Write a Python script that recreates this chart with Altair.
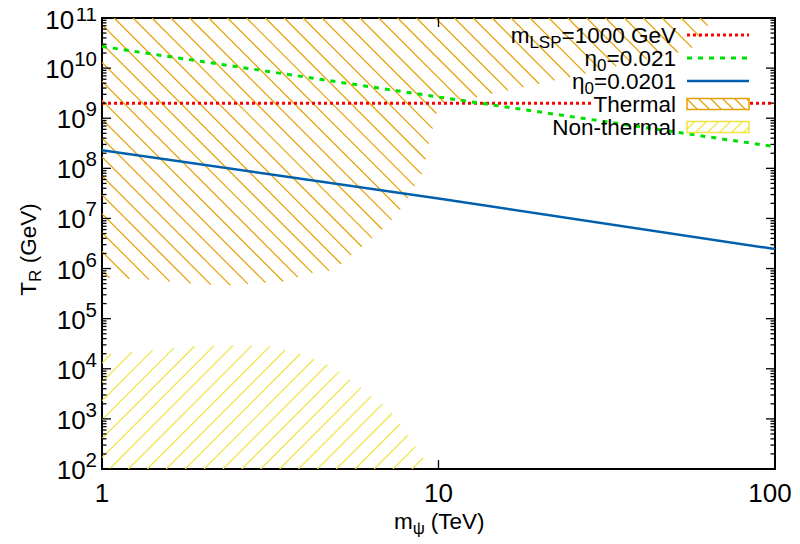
import altair as alt
import numpy as np
import pandas as pd

# ---------------- data ----------------
m_line = [1, 10, 100]
T_mlsp = [2.0e9, 2.0e9, 2.0e9]
T_eta021 = [2.7e10, 2.65e9, 2.7e8]
T_eta0201 = [2.3e8, 2.5e7, 2.45e6]

thermal_m = [1, 65.0, 61.9, 57.1, 51.5, 39.7, 30.2, 20.0, 14.2, 11.8, 10.45, 9.9, 9.63,
             9.37, 9.18, 8.93, 8.51, 8.12, 7.74, 7.33, 6.84, 6.39, 5.93, 5.53, 5.17, 4.73,
             4.24, 3.45, 2.77, 2.40, 1.83, 1.39, 1]
thermal_T = [1e11, 1e11, 5.6e10, 2.6e10, 2.05e10, 1.42e10, 9.0e9, 4.9e9, 3.0e9, 2.25e9,
             1.88e9, 1.36e9, 6.5e8, 3.3e8, 1.64e8, 7.9e7, 4.5e7, 2.6e7, 1.58e7, 1.0e7,
             6.3e6, 4.2e6, 2.75e6, 1.9e6, 1.26e6, 9.1e5, 8.3e5, 5.5e5, 5.0e5, 4.6e5,
             5.0e5, 6.0e5, 6.6e5]

nonthermal_m = [1, 1, 1.39, 1.83, 2.14, 2.57, 3.11, 3.47, 3.88, 4.24, 4.66, 5.06, 5.46,
                5.89, 6.39, 6.84, 7.27, 7.74, 8.06, 8.58, 9.06, 9.44]
nonthermal_T = [100, 1.9e4, 2.3e4, 2.8e4, 2.9e4, 2.9e4, 2.9e4, 2.4e4, 2.0e4, 1.6e4,
                1.21e4, 8.8e3, 6.1e3, 4.2e3, 2.66e3, 1.93e3, 1.28e3, 770, 486, 267, 161, 100]

x_ticks = [1, 10, 100]
x_tick_labels = ["1", "10", "100"]
y_exps = list(range(2, 12))

# ---------------- layout / style ----------------
W, H = 673, 451
FONT = "Liberation Sans"
FS = 22.5      # legend / titles
SFS = 17       # subscripts
TFS = 26       # tick labels
TSFS = 20.5    # tick superscripts
RED, GREEN, BLUE = "#ff0000", "#00e000", "#0060ad"
ORANGE, YELLOW = "#e69f00", "#f0e442"

AW = {" ": 278, "(": 333, ")": 333, "-": 333, ".": 278, "=": 584, "G": 778,
      "L": 556, "N": 722, "P": 667, "R": 722, "S": 667, "T": 611, "V": 667, "a": 556,
      "e": 556, "h": 556, "l": 222, "m": 833, "n": 556, "o": 556, "r": 333, "t": 278,
      "\u03b7": 556, "\u03c8": 700}


def tw(s, size):
    return sum(AW.get(ch, 556) for ch in s) * size / 1000.0


xs = alt.Scale(type="log", domain=[1, 100], nice=False)
ys = alt.Scale(type="log", domain=[1e2, 1e11], nice=False)
dummy = pd.DataFrame({"a": [0]})


def to_uv(m, T):
    return np.log10(m) / 2 * W, (11 - np.log10(T)) / 9 * H


def from_uv(u, v):
    return 10 ** (u / W * 2), 10 ** (11 - v / H * 9)


def hatch_uv(u, v, direction, c0, step):
    """clip the family of lines v = direction*u + c against polygon (u, v)"""
    u = np.asarray(u, float)
    v = np.asarray(v, float)
    g = v - direction * u
    n = len(u)
    segs = []
    k0 = int(np.ceil((g.min() - c0) / step))
    k1 = int(np.floor((g.max() - c0) / step))
    for k in range(k0, k1 + 1):
        c = c0 + k * step
        pts = []
        for i in range(n):
            j = (i + 1) % n
            a, b = g[i] - c, g[j] - c
            if (a < 0) != (b < 0):
                t = a / (a - b)
                pts.append(u[i] + t * (u[j] - u[i]))
        pts.sort()
        for p in range(0, len(pts) - 1, 2):
            ua, ub = pts[p], pts[p + 1]
            segs.append((ua, direction * ua + c, ub, direction * ub + c))
    return segs


def hatch_layer(pm, pT, direction, c0, step, color):
    u, v = to_uv(np.array(pm), np.array(pT))
    segs = hatch_uv(u, v, direction, c0, step)
    rows = []
    for ua, va, ub, vb in segs:
        m1, T1 = from_uv(ua, va)
        m2, T2 = from_uv(ub, vb)
        rows.append({"m1": m1, "T1": T1, "m2": m2, "T2": T2})
    df = pd.DataFrame(rows)
    return alt.Chart(df).mark_rule(color=color, strokeWidth=1.2, clip=True).encode(
        x=alt.X("m1:Q", scale=xs, axis=None), y=alt.Y("T1:Q", scale=ys, axis=None),
        x2="m2:Q", y2="T2:Q")


layers = []
layers.append(hatch_layer(thermal_m, thermal_T, 1, -12.2, 18.9, ORANGE))
layers.append(hatch_layer(nonthermal_m, nonthermal_T, -1, 458.5, 18.9, YELLOW))


def line_layer(Ts, color, dash=None, width=2.5):
    df = pd.DataFrame({"m": m_line, "T": Ts})
    kw = dict(color=color, strokeWidth=width, clip=True)
    if dash:
        kw["strokeDash"] = dash
    return alt.Chart(df).mark_line(**kw).encode(
        x=alt.X("m:Q", scale=xs, axis=None), y=alt.Y("T:Q", scale=ys, axis=None))


layers.append(line_layer(T_mlsp, RED, [3, 3], 3))
layers.append(line_layer(T_eta021, GREEN, [5, 6], 3))
layers.append(line_layer(T_eta0201, BLUE, None, 2.5))

# ---------------- ticks ----------------
major = pd.DataFrame({"T": [10.0 ** e for e in y_exps]})
minor = pd.DataFrame({"T": [k * 10.0 ** e for e in y_exps[:-1] for k in range(2, 10)]})
for df, L in ((major, 9), (minor, 4.5)):
    layers.append(alt.Chart(df).mark_rule(color="black", strokeWidth=1.3).encode(
        y=alt.Y("T:Q", scale=ys, axis=None), x=alt.value(0), x2=alt.value(L)))
    layers.append(alt.Chart(df).mark_rule(color="black", strokeWidth=1.3).encode(
        y=alt.Y("T:Q", scale=ys, axis=None), x=alt.value(W - L), x2=alt.value(W)))
xt = pd.DataFrame({"m": x_ticks, "lab": x_tick_labels})
layers.append(alt.Chart(xt).mark_rule(color="black", strokeWidth=1.3).encode(
    x=alt.X("m:Q", scale=xs, axis=None), y=alt.value(H), y2=alt.value(H - 9)))
layers.append(alt.Chart(xt).mark_rule(color="black", strokeWidth=1.3).encode(
    x=alt.X("m:Q", scale=xs, axis=None), y=alt.value(0), y2=alt.value(9)))

# ---------------- tick labels ----------------
for i in range(len(x_ticks)):
    # the last label is nudged so that it stays inside the page
    layers.append(alt.Chart(xt.iloc[[i]]).mark_text(
        font=FONT, fontSize=TFS, baseline="middle", align="center", color="black",
        dx=(-5 if i == len(x_ticks) - 1 else 0)).encode(
        x=alt.X("m:Q", scale=xs, axis=None), y=alt.value(H + 25), text="lab:N"))

ylab = pd.DataFrame({"T": [10.0 ** e for e in y_exps], "e": [str(e) for e in y_exps],
                     "nd": [len(str(e)) for e in y_exps]})
top_e = str(y_exps[-1])
for nd in (1, 2):
    for is_top in (False, True):
        sub = ylab[(ylab["nd"] == nd) & ((ylab["e"] == top_e) == is_top)]
        if len(sub) == 0:
            continue
        layers.append(alt.Chart(sub).mark_text(
            font=FONT, fontSize=TFS, baseline="middle", align="right",
            dy=(3 if is_top else 2), color="black").encode(
            y=alt.Y("T:Q", scale=ys, axis=None), x=alt.value(-5 - tw("1" * nd, TSFS)),
            text=alt.value("10")))
layers.append(alt.Chart(ylab[ylab["e"] != top_e]).mark_text(
    font=FONT, fontSize=TSFS, baseline="middle", align="right", dy=-8,
    color="black").encode(
    y=alt.Y("T:Q", scale=ys, axis=None), x=alt.value(-5), text="e:N"))
layers.append(alt.Chart(ylab[ylab["e"] == top_e]).mark_text(
    font=FONT, fontSize=TSFS, baseline="middle", align="right", dy=-3,
    color="black").encode(
    y=alt.Y("T:Q", scale=ys, axis=None), x=alt.value(-5), text="e:N"))


def txt(s, x, y, size=FS, align="left", angle=None, color="black"):
    kw = dict(text=s, font=FONT, fontSize=size, align=align, baseline="alphabetic",
              color=color)
    if angle is not None:
        kw["angle"] = angle
    return alt.Chart(dummy).mark_text(**kw).encode(x=alt.value(x), y=alt.value(y))


def pieces(parts, x0, yb, angle=None):
    """parts: list of (text, size, shift); lays them out left to right.
    blank parts only advance the pen."""
    out = []
    pos = x0
    for s, size, sh in parts:
        blank = s.strip() == ""
        if angle is None:
            if not blank:
                out.append(txt(s, pos, yb + sh, size))
            pos += tw(s, size)
        else:  # rotated 270: text runs upward, subscript shifts right
            if not blank:
                out.append(txt(s, yb + sh, pos, size, angle=angle))
            pos -= tw(s, size)
    return out


# axis titles
xparts = [("m", FS, 0), ("\u03c8", SFS, 5), (" ", FS, 0), ("(TeV)", FS, 0)]
xtot = sum(tw(s, z) for s, z, _ in xparts)
layers += pieces(xparts, W / 2 + 2 - xtot / 2, H + 60)
yparts = [("T", FS, 0), ("R", SFS, 5), (" ", FS, 0), ("(GeV)", FS, 0)]
ytot = sum(tw(s, z) for s, z, _ in yparts)
layers += pieces(yparts, H / 2 + 6 + ytot / 2, -66, angle=270)

# ---------------- legend ----------------
leg_right = 574
rows_y = [17, 40, 63, 86, 109]
leg_text = [
    [("m", FS, 0), ("LSP", SFS, 5), ("=1000", FS, 0), (" ", FS, 0), ("GeV", FS, 0)],
    [("\u03b7", FS, 0), ("0", SFS, 5), ("=0.021", FS, 0)],
    [("\u03b7", FS, 0), ("0", SFS, 5), ("=0.0201", FS, 0)],
    [("Thermal", FS, 0)],
    [("Non-thermal", FS, 0)],
]
sx1, sx2 = 585, 647

# the "Thermal" key entry is drawn over an opaque background in the reference
th_w = sum(tw(s, z) for s, z, _ in leg_text[3])
layers.append(alt.Chart(dummy).mark_rect(fill="white", stroke=None).encode(
    x=alt.value(leg_right - th_w - 1), x2=alt.value(sx2 + 1),
    y=alt.value(rows_y[3] - 6), y2=alt.value(rows_y[3] + 6)))

for parts, ry in zip(leg_text, rows_y):
    tot = sum(tw(s, z) for s, z, _ in parts)
    layers += pieces(parts, leg_right - tot, ry + 8)

for ry, col, dash, wdt in ((rows_y[0], RED, [3, 3], 3), (rows_y[1], GREEN, [5, 6], 3),
                           (rows_y[2], BLUE, None, 2.5)):
    kw = dict(color=col, strokeWidth=wdt)
    if dash:
        kw["strokeDash"] = dash
    layers.append(alt.Chart(dummy).mark_rule(**kw).encode(
        x=alt.value(sx1), x2=alt.value(sx2), y=alt.value(ry), y2=alt.value(ry)))

for ry, col, direction in ((rows_y[3], ORANGE, 1), (rows_y[4], YELLOW, -1)):
    y1, y2 = ry - 5.5, ry + 5.5
    layers.append(alt.Chart(dummy).mark_rect(fill="white", stroke=col,
                                             strokeWidth=1.5).encode(
        x=alt.value(sx1), x2=alt.value(sx2), y=alt.value(y1), y2=alt.value(y2)))
    segs = hatch_uv([sx1, sx2, sx2, sx1], [y1, y1, y2, y2], direction, 0.0, 12.0)
    hd = pd.DataFrame([{"a": a, "b": b, "c": c, "d": d} for a, b, c, d in segs])
    layers.append(alt.Chart(hd).mark_rule(color=col, strokeWidth=1.2).encode(
        x=alt.X("a:Q", scale=None), y=alt.Y("b:Q", scale=None), x2="c:Q", y2="d:Q"))

chart = alt.layer(*layers).properties(
    width=W, height=H,
    autosize=alt.AutoSizeParams(type="none"),
    padding={"left": 94, "top": 10, "right": 16, "bottom": 70},
).configure_view(stroke="black", strokeWidth=2)

chart.save("out.html", embed_options={"renderer": "svg", "actions": False})
